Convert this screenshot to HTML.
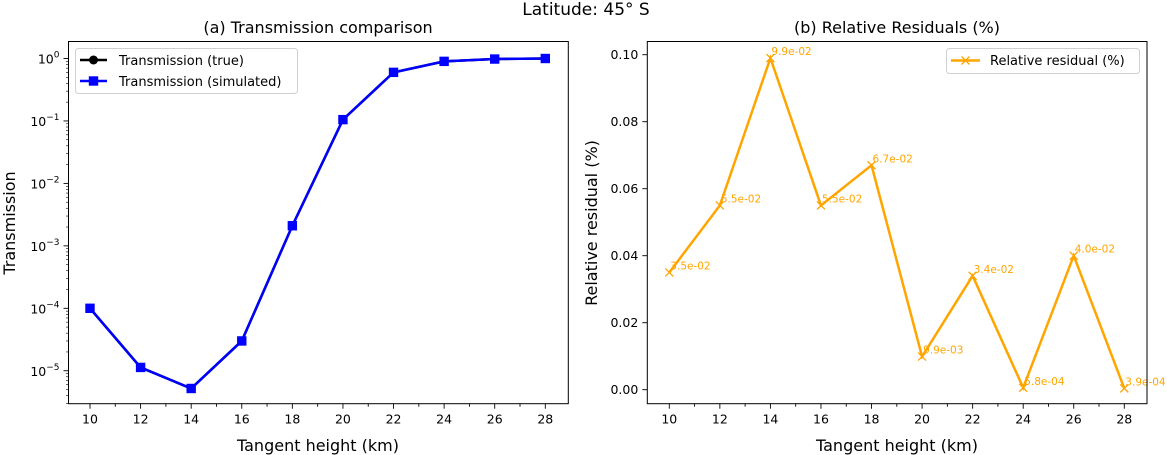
<!DOCTYPE html>
<html><head><meta charset="utf-8"><style>
body{margin:0;background:#fff;}
svg{display:block;font-family:"DejaVu Sans","Liberation Sans",sans-serif;}
</style></head><body>
<svg id="fig" width="1167" height="455" viewBox="0 0 1167 455">
<text x="586" y="15" font-size="17" text-anchor="middle">Latitude: 45° S</text>
<g id="left"></g>
<g id="right"></g>
</svg>
<script>
const heights = [10,12,14,16,18,20,22,24,26,28];
const transTrue = [1.0e-4,1.13e-5,5.2e-6,3.0e-5,2.1e-3,0.105,0.60,0.90,0.98,1.0];
const transSim = [1.0e-4,1.13e-5,5.2e-6,3.0e-5,2.1e-3,0.105,0.60,0.90,0.98,1.0];
const residuals = [0.035,0.055,0.099,0.055,0.067,0.0099,0.034,0.00058,0.040,0.00039];
const residualLabels = ["3.5e-02","5.5e-02","9.9e-02","5.5e-02","6.7e-02","9.9e-03","3.4e-02","5.8e-04","4.0e-02","3.9e-04"];
const xTicks = [10,12,14,16,18,20,22,24,26,28];
const logTicks = [0,-1,-2,-3,-4,-5];
const resTicks = [0,0.02,0.04,0.06,0.08,0.10];
const resTickLabels = ["0.00","0.02","0.04","0.06","0.08","0.10"];

const NS="http://www.w3.org/2000/svg";
function mk(parent,tag,attrs,text){const e=document.createElementNS(NS,tag);for(const k in attrs)e.setAttribute(k,attrs[k]);if(text!==undefined)e.textContent=text;parent.appendChild(e);return e;}

const L={x0:68.5,x1:568.3,y0:41.5,y1:403.7};
const R={x0:647.3,x1:1147,y0:41.5,y1:403.7};
const xL=v=>90+(v-10)*(545.3-90)/18;
const xR=v=>669.3+(v-10)*(1124.3-669.3)/18;
const yL=v=>58.5-Math.log10(v)*62.45;
const yLe=e=>58.5-e*62.45;
const yR=v=>389.7-v*3350;

const gl=document.getElementById('left');
const gr=document.getElementById('right');

let e;
e=mk(gl,'text',{x:318,y:33,'font-size':16,'text-anchor':'middle'},'(a) Transmission comparison');


for(let v=10;v<=28;v++){
  const x=xL(v), major=v%2===0;
  e=mk(gl,'line',{x1:x,x2:x,y1:L.y1,y2:L.y1+(major?5:3),stroke:'#000','stroke-width':0.9});
  
  
}
xTicks.forEach(v=>{
  e=mk(gl,'text',{x:xL(v),y:L.y1+20,'font-size':12.5,'text-anchor':'middle'},String(v));
  
  
});
logTicks.forEach(p=>{
  const y=yLe(p);
  e=mk(gl,'line',{x1:L.x0-5,x2:L.x0,y1:y,y2:y,stroke:'#000','stroke-width':0.9});
  
  
  e=mk(gl,'text',{x:L.x0-9,y:y+5,'font-size':12.5,'text-anchor':'end'});
  
  
  mk(e,'tspan',{},'10');
  mk(e,'tspan',{dy:-6,'font-size':9},p===0?'0':'\u2212'+(-p));
});
for(let p=-6;p<=0;p++){for(let m=2;m<=9;m++){
  const y=yLe(p+Math.log10(m));
  if(y<L.y0||y>L.y1)continue;
  e=mk(gl,'line',{x1:L.x0-2.5,x2:L.x0,y1:y,y2:y,stroke:'#000','stroke-width':0.6});
  
  
}}
e=mk(gl,'text',{x:318,y:451,'font-size':16,'text-anchor':'middle'},'Tangent height (km)');


e=mk(gl,'text',{x:0,y:0,'font-size':16,'text-anchor':'middle',transform:'translate(15,223) rotate(-90)'},'Transmission');



e=mk(gl,'polyline',{points:heights.map((h,i)=>xL(h)+','+yL(transTrue[i])).join(' '),fill:'none',stroke:'#000','stroke-width':2.5});


heights.forEach((h,i)=>{
  e=mk(gl,'circle',{cx:xL(h),cy:yL(transTrue[i]),r:4.5,fill:'#000'});
  
  
});
e=mk(gl,'polyline',{points:heights.map((h,i)=>xL(h)+','+yL(transSim[i])).join(' '),fill:'none',stroke:'#0000ff','stroke-width':2.5});


heights.forEach((h,i)=>{
  e=mk(gl,'rect',{x:xL(h)-4.7,y:yL(transSim[i])-4.7,width:9.4,height:9.4,fill:'#0000ff'});
  
  
});
e=mk(gl,'rect',{x:L.x0,y:L.y0,width:L.x1-L.x0,height:L.y1-L.y0,fill:'none',stroke:'#000','stroke-width':1});


const lg=mk(gl,'g',{});


mk(lg,'rect',{x:75.5,y:48.5,width:222,height:45,rx:3,fill:'#fff',stroke:'#ccc','stroke-width':1,opacity:0.9});
mk(lg,'line',{x1:80,x2:107,y1:60,y2:60,stroke:'#000','stroke-width':2.5});
mk(lg,'circle',{cx:93.5,cy:60,r:4.5,fill:'#000'});
e=mk(lg,'text',{x:119,y:65,'font-size':13},'Transmission (true)');


mk(lg,'line',{x1:80,x2:107,y1:81,y2:81,stroke:'#00f','stroke-width':2.5});
mk(lg,'rect',{x:88.8,y:76.3,width:9.4,height:9.4,fill:'#00f'});
e=mk(lg,'text',{x:119,y:86,'font-size':13},'Transmission (simulated)');



e=mk(gr,'text',{x:897,y:33,'font-size':16,'text-anchor':'middle'},'(b) Relative Residuals (%)');


for(let v=10;v<=28;v++){
  const x=xR(v), major=v%2===0;
  e=mk(gr,'line',{x1:x,x2:x,y1:R.y1,y2:R.y1+(major?5:3),stroke:'#000','stroke-width':0.9});
  
  
}
xTicks.forEach(v=>{
  e=mk(gr,'text',{x:xR(v),y:R.y1+20,'font-size':12.5,'text-anchor':'middle'},String(v));
  
  
});
resTicks.forEach((v,i)=>{
  const y=yR(v);
  e=mk(gr,'line',{x1:R.x0-5,x2:R.x0,y1:y,y2:y,stroke:'#000','stroke-width':0.9});
  
  
  e=mk(gr,'text',{x:R.x0-9,y:y+4.5,'font-size':12.5,'text-anchor':'end'},resTickLabels[i]);
  
  
});
e=mk(gr,'text',{x:897,y:451,'font-size':16,'text-anchor':'middle'},'Tangent height (km)');


e=mk(gr,'text',{x:0,y:0,'font-size':16,'text-anchor':'middle',transform:'translate(597,223) rotate(-90)'},'Relative residual (%)');


e=mk(gr,'polyline',{points:heights.map((h,i)=>xR(h)+','+yR(residuals[i])).join(' '),fill:'none',stroke:'#ffa500','stroke-width':2.5});


heights.forEach((h,i)=>{
  const x=xR(h),y=yR(residuals[i]);
  e=mk(gr,'path',{d:`M${x-4},${y-4}L${x+4},${y+4}M${x-4},${y+4}L${x+4},${y-4}`,stroke:'#ffa500','stroke-width':1.3});
  
  
  e=mk(gr,'text',{x:x+1,y:y-3,'font-size':10.5,fill:'#ffa500'},residualLabels[i]);
  
  
});
e=mk(gr,'rect',{x:R.x0,y:R.y0,width:R.x1-R.x0,height:R.y1-R.y0,fill:'none',stroke:'#000','stroke-width':1});


const rg=mk(gr,'g',{});


mk(rg,'rect',{x:946.5,y:48.5,width:193,height:25,rx:3,fill:'#fff',stroke:'#ccc','stroke-width':1,opacity:0.9});
mk(rg,'line',{x1:951,x2:980,y1:60.5,y2:60.5,stroke:'#ffa500','stroke-width':2.5});
mk(rg,'path',{d:'M961.5,56.5L969.5,64.5M961.5,64.5L969.5,56.5',stroke:'#ffa500','stroke-width':1.3});
e=mk(rg,'text',{x:990,y:65,'font-size':13},'Relative residual (%)');


</script>
</body></html>
